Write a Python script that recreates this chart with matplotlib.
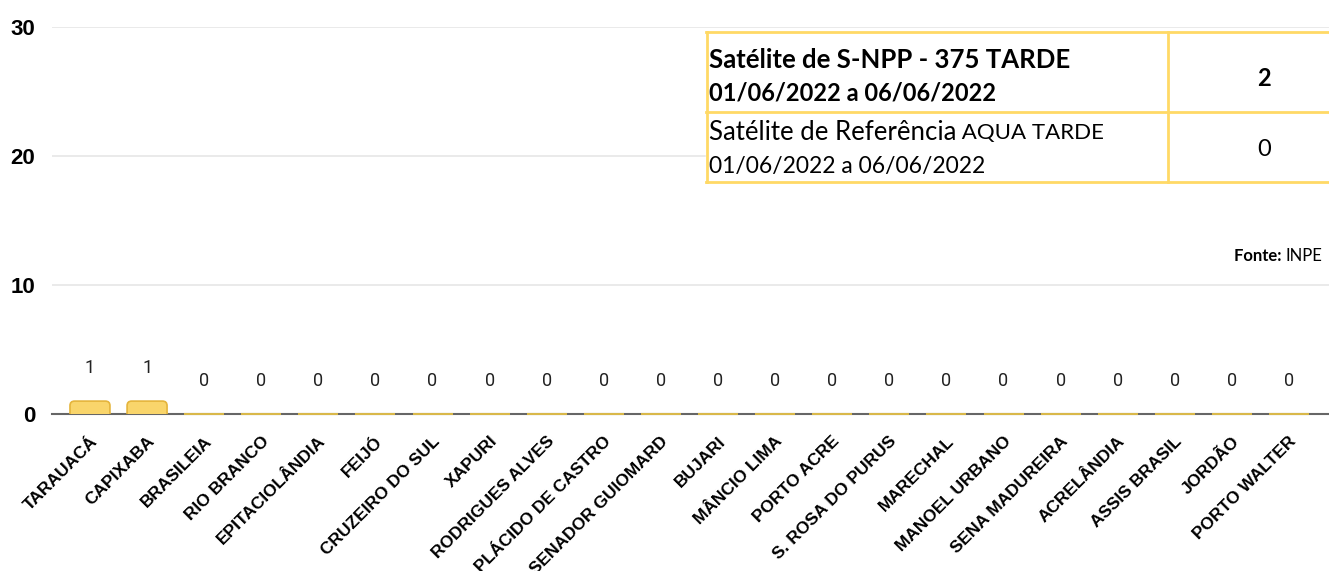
import matplotlib.pyplot as plt
from matplotlib.patches import FancyBboxPatch
from matplotlib.transforms import ScaledTranslation
import numpy as np

# data
municipios = ["TARAUACÁ", "CAPIXABA", "BRASILEIA", "RIO BRANCO", "EPITACIOLÂNDIA",
              "FEIJÓ", "CRUZEIRO DO SUL", "XAPURI", "RODRIGUES ALVES",
              "PLÁCIDO DE CASTRO", "SENADOR GUIOMARD", "BUJARI", "MÂNCIO LIMA",
              "PORTO ACRE", "S. ROSA DO PURUS", "MARECHAL", "MANOEL URBANO",
              "SENA MADUREIRA", "ACRELÂNDIA", "ASSIS BRASIL", "JORDÃO", "PORTO WALTER"]
focos = [1, 1, 0, 0, 0, 0, 0, 0, 0, 0, 0, 0, 0, 0, 0, 0, 0, 0, 0, 0, 0, 0]
y_ticks = [0, 10, 20, 30]

tabela_titulos = ["Satélite de S-NPP - 375 TARDE", "Satélite de Referência"]
tabela_sub = ["", "AQUA TARDE"]
tabela_periodo = ["01/06/2022 a 06/06/2022", "01/06/2022 a 06/06/2022"]
tabela_totais = [2, 0]
fonte = "INPE"

BAR_FILL = "#F9D56B"
BAR_EDGE = "#E5B53C"
TABLE_LINE = "#FFD966"

plt.rcParams['font.family'] = ['Roboto', 'DejaVu Sans']

fig = plt.figure(figsize=(13.29, 5.71), dpi=100)
ax = fig.add_axes([52 / 1329, 157 / 571, 1 - 52 / 1329, 387 / 571])

x = np.arange(len(municipios))
width = 0.70
# px per data unit, for rounding corners evenly
px_x = 1277 / 22.37
px_y = 387 / 30
aspect = px_x / px_y

for xi, v in zip(x, focos):
    if v > 0:
        box = FancyBboxPatch((xi - width / 2, -0.6), width, v + 0.6,
                             boxstyle="round,pad=0,rounding_size=0.08",
                             mutation_aspect=aspect,
                             facecolor=BAR_FILL, edgecolor=BAR_EDGE, linewidth=1.2,
                             zorder=3)
        ax.add_patch(box)
    else:
        ax.plot([xi - width / 2, xi + width / 2], [0, 0], color="#D9B84A",
                linewidth=1.5, zorder=4, clip_on=False, solid_capstyle='butt')
    ax.annotate(str(v), (xi, v), xytext=(0, 24), textcoords='offset points',
                ha='center', va='center', fontsize=13, color='#222222')

ax.set_xlim(-0.665, 21.70)
ax.set_ylim(0, 30)
ax.set_yticks(y_ticks)
ax.set_yticklabels([str(t) for t in y_ticks], fontsize=16, fontweight='bold',
                   family=['Liberation Sans', 'DejaVu Sans'])
ax.tick_params(axis='y', length=0, pad=12)
ax.set_xticks(x)
ax.set_xticklabels(municipios, rotation=45, ha='right', va='center',
                   rotation_mode='anchor', fontsize=12.5, fontweight='bold',
                   family=['Liberation Sans', 'DejaVu Sans'])
ax.tick_params(axis='x', length=0, pad=18)
shift = ScaledTranslation(5 / 100, 0, fig.dpi_scale_trans)
for lab in ax.get_xticklabels():
    lab.set_transform(lab.get_transform() + shift)
ax.yaxis.grid(True, color='#E6E6E6', linewidth=1.2)
ax.set_axisbelow(True)
for s in ['top', 'right', 'left']:
    ax.spines[s].set_visible(False)
ax.spines['bottom'].set_color('#666666')
ax.spines['bottom'].set_linewidth(1.5)
ax.spines['bottom'].set_zorder(2)

# overlay for the info table (pixel coordinates)
ov = fig.add_axes([0, 0, 1, 1], zorder=10)
ov.set_xlim(0, 1329)
ov.set_ylim(571, 0)
ov.axis('off')
ov.fill_between([706, 1329], 31, 183, color='white', zorder=0)
lw = 2
ov.plot([706, 1329], [32, 32], color=TABLE_LINE, lw=lw)
ov.plot([706, 1329], [112, 112], color=TABLE_LINE, lw=lw)
ov.plot([706, 1329], [182, 182], color=TABLE_LINE, lw=lw)
ov.plot([707, 707], [32, 182], color=TABLE_LINE, lw=lw)
ov.plot([1168, 1168], [32, 182], color=TABLE_LINE, lw=lw)

tfont = ['Lato', 'DejaVu Sans']
ov.text(709, 60, tabela_titulos[0], fontsize=18.5, fontweight='bold', family=tfont,
        va='center', ha='left', color='black')
ov.text(709, 93, tabela_periodo[0], fontsize=17, fontweight='bold', family=tfont,
        va='center', ha='left', color='black')
ov.text(1264, 78, str(tabela_totais[0]), fontsize=17, fontweight='bold', family=tfont,
        va='center', ha='center', color='black')

t2 = ov.text(709, 133, tabela_titulos[1], fontsize=18.5, family=tfont,
             va='center', ha='left', color='black')
ov.annotate(" " + tabela_sub[1], xy=(1, 0.5), xycoords=t2, fontsize=16, family=tfont,
            va='center', ha='left', color='black')
ov.text(709, 167, tabela_periodo[1], fontsize=16.5, family=tfont,
        va='center', ha='left', color='black')
ov.text(1264, 150, str(tabela_totais[1]), fontsize=17, family=tfont,
        va='center', ha='center', color='black')

tf = ov.text(1322, 256, fonte, fontsize=12, family=tfont, va='center', ha='right')
ov.annotate("Fonte: ", xy=(0, 0.5), xycoords=tf, fontsize=12, family=tfont,
            fontweight='bold', va='center', ha='right')

fig.savefig('out.png', dpi=100)
